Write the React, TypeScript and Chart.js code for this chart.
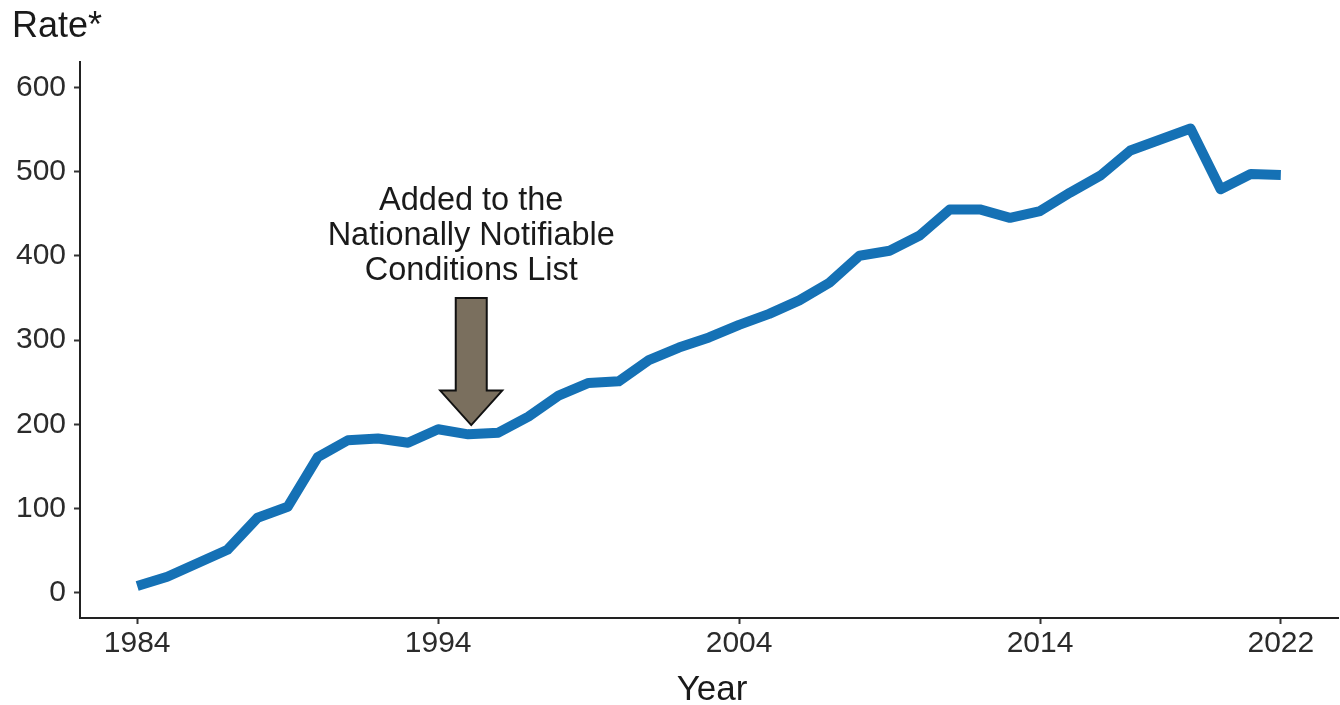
import React, { useEffect, useRef } from "react";
import { Chart, registerables } from "chart.js";
Chart.register(...registerables);

const years = [
  1984, 1985, 1986, 1987, 1988, 1989, 1990, 1991, 1992, 1993,
  1994, 1995, 1996, 1997, 1998, 1999, 2000, 2001, 2002, 2003,
  2004, 2005, 2006, 2007, 2008, 2009, 2010, 2011, 2012, 2013,
  2014, 2015, 2016, 2017, 2018, 2019, 2020, 2021, 2022,
];
const rates = [
  8, 19, 35, 51, 89, 102, 161, 181, 183, 178,
  194, 188, 190, 209, 234, 249, 251, 276, 291, 303,
  318, 331, 347, 368, 400, 406, 424, 455, 455, 445,
  453, 475, 495, 525, 538, 551, 479, 497, 496,
];
const xTicks = [1984, 1994, 2004, 2014, 2022];
const yTicks = [0, 100, 200, 300, 400, 500, 600];
const yTitle = "Rate*";
const xTitle = "Year";
const noteLines = ["Added to the", "Nationally Notifiable", "Conditions List"];
const noteYear = 1995.1;
const noteTextValue = 454; // baseline of first line (data units)
const arrowTop = 350;
const arrowHeadBase = 240;
const arrowTip = 199;

const FONT = "'Liberation Sans', Arial, sans-serif";

export default function App() {
  const ref = useRef<HTMLCanvasElement | null>(null);
  useEffect(() => {
    document.body.style.margin = "0";
    const canvas = ref.current!;
    const overlay = {
      id: "overlay",
      afterDatasetsDraw(chart: any) {
        const ctx = chart.ctx;
        const xs = chart.scales.x;
        const ys = chart.scales.y;
        const cx = xs.getPixelForValue(noteYear);
        // arrow
        const yTop = ys.getPixelForValue(arrowTop);
        const yHead = ys.getPixelForValue(arrowHeadBase);
        const yTip = ys.getPixelForValue(arrowTip);
        const sw = 15.5;
        const hw = 31;
        ctx.save();
        ctx.beginPath();
        ctx.moveTo(cx - sw, yTop);
        ctx.lineTo(cx + sw, yTop);
        ctx.lineTo(cx + sw, yHead);
        ctx.lineTo(cx + hw, yHead);
        ctx.lineTo(cx, yTip);
        ctx.lineTo(cx - hw, yHead);
        ctx.lineTo(cx - sw, yHead);
        ctx.closePath();
        ctx.fillStyle = "#7a6f5e";
        ctx.fill();
        ctx.lineWidth = 2;
        ctx.strokeStyle = "#111";
        ctx.lineJoin = "miter";
        ctx.stroke();
        // note text
        ctx.fillStyle = "#1a1a1a";
        ctx.font = `32.5px ${FONT}`;
        ctx.textAlign = "center";
        ctx.textBaseline = "alphabetic";
        const y0 = ys.getPixelForValue(noteTextValue);
        noteLines.forEach((t, i) => ctx.fillText(t, cx, y0 + i * 35));
        ctx.restore();
      },
      afterDraw(chart: any) {
        const ctx = chart.ctx;
        const area = chart.chartArea;
        ctx.save();
        ctx.fillStyle = "#1a1a1a";
        ctx.textBaseline = "alphabetic";
        ctx.font = `36px ${FONT}`;
        ctx.textAlign = "left";
        ctx.fillText(yTitle, 12, 37);
        ctx.font = `35px ${FONT}`;
        ctx.textAlign = "center";
        ctx.fillText(xTitle, (area.left + area.right) / 2 + 3, 700);
        ctx.restore();
      },
    };
    const chart = new Chart(canvas, {
      type: "line",
      data: {
        datasets: [
          {
            data: years.map((y, i) => ({ x: y, y: rates[i] })),
            borderColor: "#1571b5",
            borderWidth: 10,
            pointRadius: 0,
            tension: 0,
            borderCapStyle: "butt",
            borderJoinStyle: "round",
            fill: false,
          },
        ],
      },
      options: {
        animation: false,
        responsive: false,
        devicePixelRatio: 1,
        layout: { padding: { top: 62, right: 2, left: 0, bottom: 0 } },
        plugins: { legend: { display: false }, tooltip: { enabled: false }, title: { display: false } },
        scales: {
          x: {
            type: "linear",
            min: 1982.1,
            max: 2023.9,
            afterBuildTicks: (s: any) => {
              s.ticks = xTicks.map((v) => ({ value: v }));
            },
            afterFit: (s: any) => {
              s.height = 87;
            },
            ticks: {
              autoSkip: false,
              maxRotation: 0,
              font: { family: FONT, size: 30 },
              color: "#2b2b2b",
              padding: 2,
              callback: (v: any) => String(v),
            },
            grid: { drawOnChartArea: false, drawTicks: true, tickLength: 6, tickColor: "#333", tickWidth: 2 },
            border: { display: true, color: "#222", width: 2 },
          },
          y: {
            type: "linear",
            min: -30,
            max: 630,
            afterBuildTicks: (s: any) => {
              s.ticks = yTicks.map((v) => ({ value: v }));
            },
            afterFit: (s: any) => {
              s.width = 80;
            },
            ticks: {
              font: { family: FONT, size: 30 },
              color: "#2b2b2b",
              padding: 8,
              callback: (v: any) => String(v),
            },
            grid: { drawOnChartArea: false, drawTicks: true, tickLength: 6, tickColor: "#333", tickWidth: 2 },
            border: { display: true, color: "#222", width: 2 },
          },
        },
      },
      plugins: [overlay],
    } as any);
    return () => chart.destroy();
  }, []);
  return (
    <div style={{ position: "fixed", left: 0, top: 0, width: 1340, height: 705, background: "#fff" }}>
      <canvas ref={ref} width={1340} height={705} style={{ display: "block", width: 1340, height: 705 }} />
    </div>
  );
}
